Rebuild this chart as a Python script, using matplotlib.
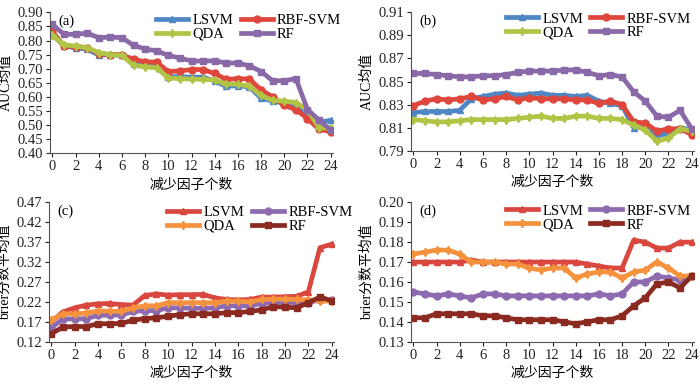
import numpy as np
import matplotlib
matplotlib.use('Agg')
import matplotlib.pyplot as plt

plt.rcParams['font.family'] = ['Liberation Serif', 'Noto Sans CJK SC']
plt.rcParams['axes.unicode_minus'] = False

x = np.arange(0, 25)

# (a) AUC mean
a_lsvm = [0.820, 0.782, 0.773, 0.770, 0.748, 0.750, 0.747, 0.718, 0.715, 0.713, 0.672, 0.672, 0.670,
          0.670, 0.657, 0.637, 0.640, 0.635, 0.595, 0.585, 0.578, 0.570, 0.540, 0.510, 0.517]
a_rbf = [0.832, 0.780, 0.778, 0.775, 0.753, 0.750, 0.750, 0.733, 0.725, 0.723, 0.690, 0.692, 0.697,
         0.697, 0.683, 0.662, 0.665, 0.663, 0.625, 0.600, 0.570, 0.555, 0.523, 0.485, 0.477]
a_qda = [0.818, 0.785, 0.780, 0.775, 0.757, 0.750, 0.747, 0.712, 0.707, 0.703, 0.667, 0.665, 0.663,
         0.662, 0.660, 0.645, 0.645, 0.638, 0.605, 0.588, 0.585, 0.580, 0.555, 0.490, 0.490]
a_rf = [0.857, 0.822, 0.822, 0.826, 0.810, 0.812, 0.810, 0.783, 0.770, 0.763, 0.747, 0.738, 0.727,
        0.727, 0.728, 0.720, 0.720, 0.710, 0.690, 0.657, 0.657, 0.665, 0.555, 0.518, 0.483]

# (b) AUC mean
b_lsvm = [0.823, 0.824, 0.824, 0.824, 0.825, 0.835, 0.837, 0.839, 0.840, 0.838, 0.839, 0.840, 0.838,
          0.838, 0.837, 0.838, 0.833, 0.831, 0.829, 0.810, 0.811, 0.803, 0.805, 0.810, 0.808]
b_rbf = [0.829, 0.833, 0.835, 0.834, 0.835, 0.837, 0.834, 0.835, 0.837, 0.834, 0.836, 0.835, 0.835,
         0.835, 0.834, 0.834, 0.831, 0.833, 0.830, 0.815, 0.814, 0.807, 0.809, 0.809, 0.804]
b_qda = [0.817, 0.816, 0.815, 0.815, 0.816, 0.817, 0.817, 0.817, 0.817, 0.818, 0.819, 0.820, 0.818,
         0.818, 0.820, 0.820, 0.818, 0.818, 0.817, 0.812, 0.808, 0.798, 0.801, 0.809, 0.807]
b_rf = [0.857, 0.857, 0.856, 0.855, 0.854, 0.854, 0.855, 0.855, 0.856, 0.858, 0.859, 0.859, 0.859,
        0.860, 0.860, 0.858, 0.855, 0.856, 0.854, 0.841, 0.833, 0.820, 0.819, 0.825, 0.809]

# (c) brier score mean
c_lsvm = [0.170, 0.195, 0.205, 0.212, 0.215, 0.216, 0.213, 0.212, 0.236, 0.240, 0.237, 0.238, 0.238,
          0.239, 0.230, 0.226, 0.225, 0.226, 0.232, 0.232, 0.233, 0.234, 0.245, 0.356, 0.365]
c_rbf = [0.155, 0.177, 0.177, 0.178, 0.186, 0.187, 0.187, 0.196, 0.198, 0.198, 0.205, 0.205, 0.204,
         0.204, 0.205, 0.210, 0.210, 0.210, 0.216, 0.219, 0.219, 0.218, 0.218, 0.225, 0.224]
c_qda = [0.175, 0.190, 0.190, 0.192, 0.197, 0.197, 0.196, 0.205, 0.210, 0.210, 0.218, 0.218, 0.218,
         0.218, 0.218, 0.222, 0.222, 0.220, 0.226, 0.227, 0.227, 0.226, 0.225, 0.222, 0.222]
c_rf = [0.140, 0.157, 0.158, 0.158, 0.165, 0.165, 0.166, 0.174, 0.178, 0.180, 0.184, 0.188, 0.190,
        0.190, 0.190, 0.193, 0.193, 0.196, 0.200, 0.208, 0.207, 0.205, 0.218, 0.232, 0.223]

# (d) brier score mean
d_lsvm = [0.170, 0.170, 0.170, 0.170, 0.170, 0.171, 0.170, 0.170, 0.170, 0.170, 0.170, 0.170, 0.170,
          0.170, 0.170, 0.169, 0.168, 0.167, 0.167, 0.181, 0.180, 0.177, 0.177, 0.180, 0.180]
d_rbf = [0.155, 0.154, 0.153, 0.154, 0.153, 0.152, 0.154, 0.154, 0.153, 0.153, 0.153, 0.153, 0.153,
         0.153, 0.153, 0.153, 0.154, 0.153, 0.154, 0.160, 0.160, 0.163, 0.162, 0.161, 0.163]
d_qda = [0.174, 0.175, 0.176, 0.176, 0.174, 0.170, 0.170, 0.170, 0.169, 0.169, 0.167, 0.166, 0.167,
         0.167, 0.162, 0.164, 0.165, 0.165, 0.162, 0.165, 0.166, 0.170, 0.167, 0.163, 0.163]
d_rf = [0.142, 0.142, 0.144, 0.144, 0.144, 0.144, 0.143, 0.143, 0.142, 0.141, 0.141, 0.141, 0.141,
        0.140, 0.139, 0.140, 0.141, 0.141, 0.143, 0.148, 0.152, 0.159, 0.160, 0.157, 0.163]

names = ['LSVM', 'RBF-SVM', 'QDA', 'RF']
markers = ['^', 'o', (4, 1, 0), 's']
msizes = [5, 5, 6, 5]
col_top = ['#4f87c5', '#df473d', '#b2c446', '#8a69a8']
col_bot = ['#d9473f', '#8e6bb0', '#f5923e', '#8a2a20']

W, H = 700.0, 385.0
def box(l, r, t, b):
    return [l / W, 1 - b / H, (r - l) / W, (b - t) / H]

panels = [
    dict(rect=box(50, 333, 12.3, 153.3), data=[a_lsvm, a_rbf, a_qda, a_rf], cols=col_top,
         yt=np.arange(0.40, 0.901, 0.05), ylab='AUC均值', tag='(a)', leg=(0.375, 0.99)),
    dict(rect=box(411, 694, 12.3, 150.7), data=[b_lsvm, b_rbf, b_qda, b_rf], cols=col_top,
         yt=np.arange(0.79, 0.911, 0.02), ylab='AUC均值', tag='(b)', leg=(0.335, 1.0)),
    dict(rect=box(49, 334, 202.3, 341.7), data=[c_lsvm, c_rbf, c_qda, c_rf], cols=col_bot,
         yt=np.arange(0.12, 0.471, 0.05), ylab='brier分数平均值', tag='(c)', leg=(0.415, 0.975)),
    dict(rect=box(411, 694, 202.3, 341.7), data=[d_lsvm, d_rbf, d_qda, d_rf], cols=col_bot,
         yt=np.arange(0.13, 0.2001, 0.01), ylab='brier分数平均值', tag='(d)', leg=(0.335, 0.985)),
]

fig = plt.figure(figsize=(7, 3.85), dpi=100)

for p in panels:
    ax = fig.add_axes(p['rect'])
    lines = []
    for k in [0, 1, 2, 3]:
        ln, = ax.plot(x, p['data'][k], color=p['cols'][k], lw=3.4, marker=markers[k],
                      ms=msizes[k], mfc=p['cols'][k], mec=p['cols'][k], label=names[k])
        lines.append(ln)
    ax.set_xlim(-0.2, 24.2)
    ax.set_ylim(p['yt'][0], p['yt'][-1])
    ax.set_xticks(np.arange(0, 25, 2))
    ax.set_yticks(p['yt'])
    ax.set_yticklabels(['%.2f' % v for v in p['yt']])
    for s in ['top', 'right']:
        ax.spines[s].set_visible(False)
    ax.spines['left'].set_color('#555555')
    ax.spines['bottom'].set_color('#555555')
    ax.tick_params(direction='out', length=3, width=0.8, labelsize=10.5, pad=2, colors='#222222')
    ax.set_ylabel(p['ylab'], fontsize=10, labelpad=3)
    ax.set_xlabel('减少因子个数', fontsize=10, labelpad=4)
    ax.text(0.03, 0.985, p['tag'], transform=ax.transAxes, fontsize=10.5, va='top', ha='left')
    # column-wise fill: LSVM/QDA in first column, RBF-SVM/RF in second
    order = [lines[0], lines[2], lines[1], lines[3]]
    ax.legend(handles=order, ncol=2, loc='upper left', bbox_to_anchor=p['leg'], frameon=False,
              fontsize=10.5, handlelength=2.2, handletextpad=0.3, columnspacing=0.5,
              labelspacing=0.05, borderpad=0, borderaxespad=0)

fig.savefig('out.png', dpi=100)
